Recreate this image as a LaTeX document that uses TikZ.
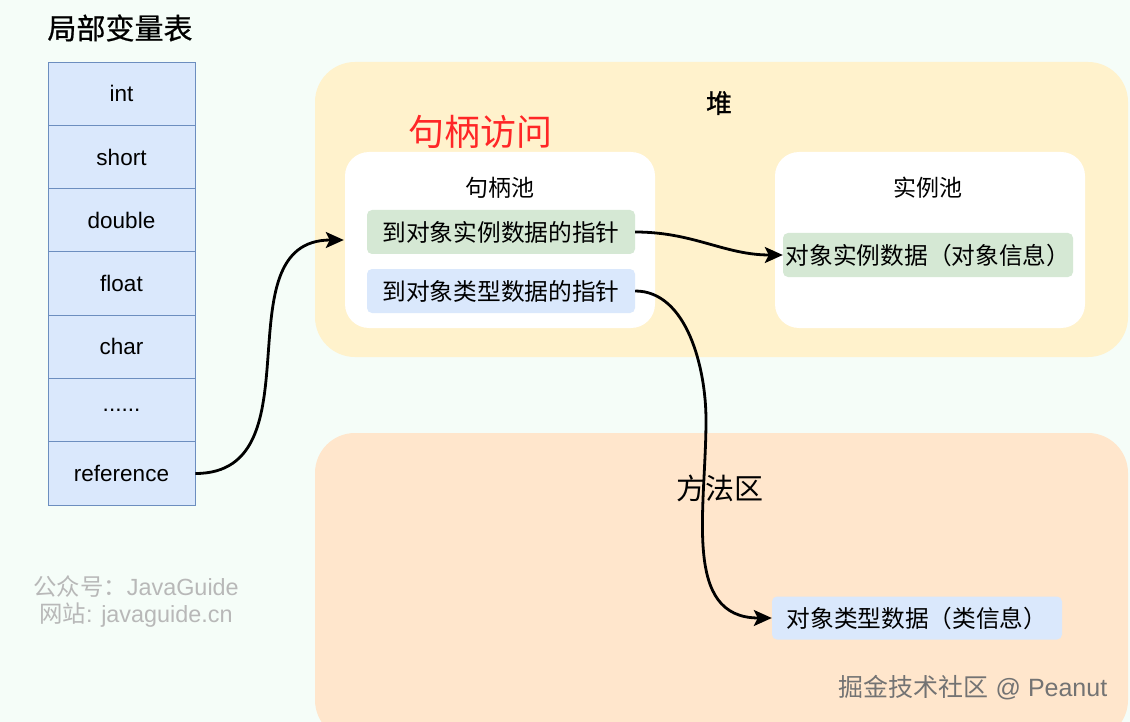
\documentclass[tikz,border=0pt]{standalone}
\usepackage{fontspec}
\setmainfont{Liberation Sans}
\newfontfamily\cjk{Noto Sans CJK SC}
\newfontfamily\cjkheavy[FakeBold=0.7]{Noto Sans CJK SC}
\usetikzlibrary{arrows.meta,positioning,calc}

\definecolor{bgmint}{HTML}{F5FDF8}
\definecolor{cellblue}{HTML}{DAE8FC}
\definecolor{cellline}{HTML}{6C8EBF}
\definecolor{heapbg}{HTML}{FFF2CC}
\definecolor{methodbg}{HTML}{FFE6CC}
\definecolor{itemgreen}{HTML}{D5E8D4}
\definecolor{marktext}{HTML}{B8B8B8}

\tikzset{
  cell/.style={draw=cellline, line width=0.9pt, fill=cellblue, minimum width=147pt,
    minimum height=63.3pt, inner sep=0pt, font=\fontsize{22.5}{26}\selectfont},
  pool/.style={fill=white, rounded corners=24pt, minimum width=310pt,
    minimum height=176pt, inner sep=0pt},
  item/.style={rounded corners=5pt, minimum height=44pt, inner sep=0pt,
    font=\cjk\fontsize{23.7}{28}\selectfont},
  link/.style={line width=2.8pt, -{Stealth[length=18pt,width=16pt,inset=4pt]}}
}

\begin{document}
\begin{tikzpicture}[x=1pt, y=1pt]
            \fill[bgmint] (0,0) rectangle (1130,-722);
            \useasboundingbox (0,0) rectangle (1130,-722);
            % local variable table
            \node (title) at (120,-28) {\cjkheavy\fontsize{29}{34}\selectfont 局部变量表};
            \foreach \i/\name in {1/int, 2/short, 3/double, 4/float, 5/char, 6/{......}, 7/reference}
                \node[cell] (r\i) at (121.5, {-30.4-63.3*\i}) {\name};
            % heap and method area
            \fill[heapbg, rounded corners=40pt] (315,-62) rectangle (1128,-357);
            \fill[methodbg, rounded corners=40pt] (315,-433) rectangle (1128,-740);
            \node (heap) at (719,-103) {\cjkheavy\fontsize{26}{30}\selectfont 堆};
            \node[text=red!85!white] (access) at (480,-132) {\cjk\fontsize{36}{40}\selectfont 句柄访问};
            \node[pool] (hpool) at (500,-240) {};
            \node[pool] (ipool) at (930,-240) {};
            \node (hname) at (500,-188) {\cjk\fontsize{23}{27}\selectfont 句柄池};
            \node (iname) at (928,-188) {\cjk\fontsize{23}{27}\selectfont 实例池};
            \node[item, fill=itemgreen, minimum width=268pt] (ptrinst) at (501,-232) {到对象实例数据的指针};
            \node[item, fill=cellblue, minimum width=268pt] (ptrtype) at (501,-291) {到对象类型数据的指针};
            \node[item, fill=itemgreen, minimum width=290pt] (instdata) at (928,-255) {对象实例数据（对象信息）\hspace{10pt}};
            \node (method) at (720,-488) {\cjk\fontsize{29}{34}\selectfont 方法区};
            \node[item, fill=cellblue, minimum width=290pt, minimum height=43pt] (typedata) at (917,-618) {对象类型数据（类信息）\hspace{10pt}};
            % watermarks
            \node[text=marktext, font=\fontsize{23.4}{27}\selectfont] (gzh) at (136,-587) {{\cjk 公众号：}JavaGuide};
            \node[text=marktext, font=\fontsize{23.4}{27}\selectfont] (site) at (136,-615) {{\cjk 网站}: javaguide.cn};
            \node[text=black!55, font=\fontsize{25}{29}\selectfont] (jj) at (973,-688) {{\cjk 掘金技术社区} @ Peanut};
            % links
            \coordinate (bend) at (706,-420);
            \draw[link] (r7.east) to[out=0, in=180, looseness=1.15] ([xshift=-1pt]hpool.west);
            \draw[link] (ptrinst.east) to[out=0, in=180] (instdata.west);
            \draw[link] (ptrtype.east) to[out=0, in=90, looseness=0.9] (bend)
                to[out=-90, in=180, looseness=1.1] (typedata.west);
        \end{tikzpicture}
\end{document}
